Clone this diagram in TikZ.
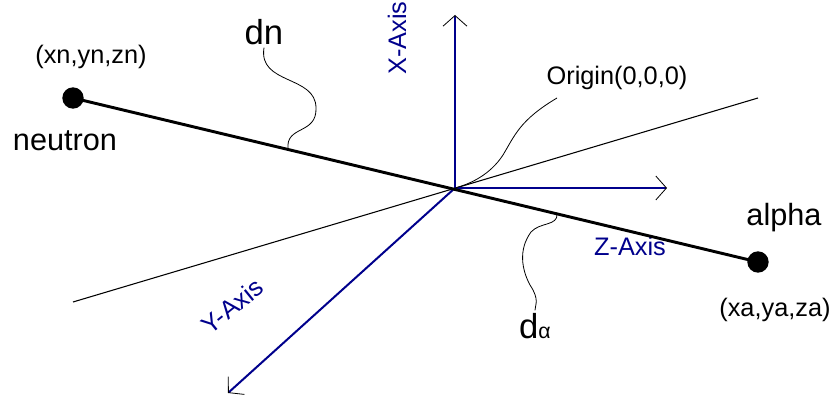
\documentclass[tikz,border=0pt]{standalone}
\usepackage{fontspec}
\setmainfont{Liberation Sans}
\usetikzlibrary{arrows.meta,positioning,calc}
\definecolor{axisblue}{RGB}{0,0,140}

\tikzset{
  axis/.style={axisblue, line width=1.5pt,
    -{Straight Barb[black, line width=0.6pt, length=8pt, width=18pt]}},
  track/.style={black, line width=2.2pt},
  leader/.style={black, line width=0.6pt},
  particle/.style={circle, fill=black, inner sep=0pt, minimum size=16pt},
  biglabel/.style={inner sep=0pt, font=\fontsize{23}{27}\selectfont},
  smalllabel/.style={inner sep=0pt, font=\fontsize{19}{23}\selectfont},
  axislabel/.style={smalllabel, text=axisblue}
}

\begin{document}
\begin{tikzpicture}[x=0.75pt, y=-0.75pt]
  \useasboundingbox (0,0) rectangle (833,398);
  % thin reference line through the origin
  \coordinate (O) at (455,188);
  \coordinate (planeL) at (73,302);
  \coordinate (planeR) at (758,98);
  \draw[line width=0.8pt] (planeL) -- (planeR);
  % axes
  \coordinate (xend) at (455,15);
  \coordinate (zend) at (667,188);
  \coordinate (yend) at (228,393);
  \draw[axis] (O) -- (xend);
  \draw[axis] (O) -- (zend);
  \draw[axis] (O) -- (yend);
  \node[axislabel, rotate=90] (xlbl) at (397,38) {X-Axis};
  \node[axislabel] (zlbl) at (630,246) {Z-Axis};
  \node[axislabel, rotate=39] (ylbl) at (232,306) {Y-Axis};
  % particles and track
  \node[particle] (neutron) at (73,98) {};
  \node[particle] (alpha) at (758,262) {};
  \draw[track] (neutron.center) -- (alpha.center);
  \node[biglabel] (nlbl) at (65,141) {neutron};
  \node[smalllabel] (ncoord) at (91,57) {(xn,yn,zn)};
  \node[biglabel] (albl) at (784,218) {alpha};
  \node[smalllabel] (acoord) at (775,310) {(xa,ya,za)};
  % distances
  \node[inner sep=2pt, font=\fontsize{26}{30}\selectfont] (dn) at (264,32) {dn};
  \node[inner sep=2pt] (da) at (535,326)
    {{\fontsize{26}{30}\selectfont d}{\fontsize{16}{20}\selectfont α}};
  \coordinate (dnfoot) at ($(neutron.center)!0.314!(alpha.center)$);
  \coordinate (dafoot) at ($(neutron.center)!0.7066!(alpha.center)$);
  \draw[leader] (dn.south) .. controls (258,85) and (316,75) .. (316,108)
    .. controls (317,135) and (285,125) .. (dnfoot);
  \draw[leader] (dafoot) .. controls (558,226) and (540,222) .. (531,232)
    .. controls (518,250) and (522,270) .. (530,285)
    .. controls (540,300) and (535,305) .. (da.north);
  % origin
  \node[smalllabel] (olbl) at (617,78) {Origin(0,0,0)};
  \coordinate (otail) at (557,98);
  \draw[leader] (otail) .. controls (520,120) and (515,135) .. (503,155)
    .. controls (490,175) and (470,184) .. (O);
\end{tikzpicture}
\end{document}
